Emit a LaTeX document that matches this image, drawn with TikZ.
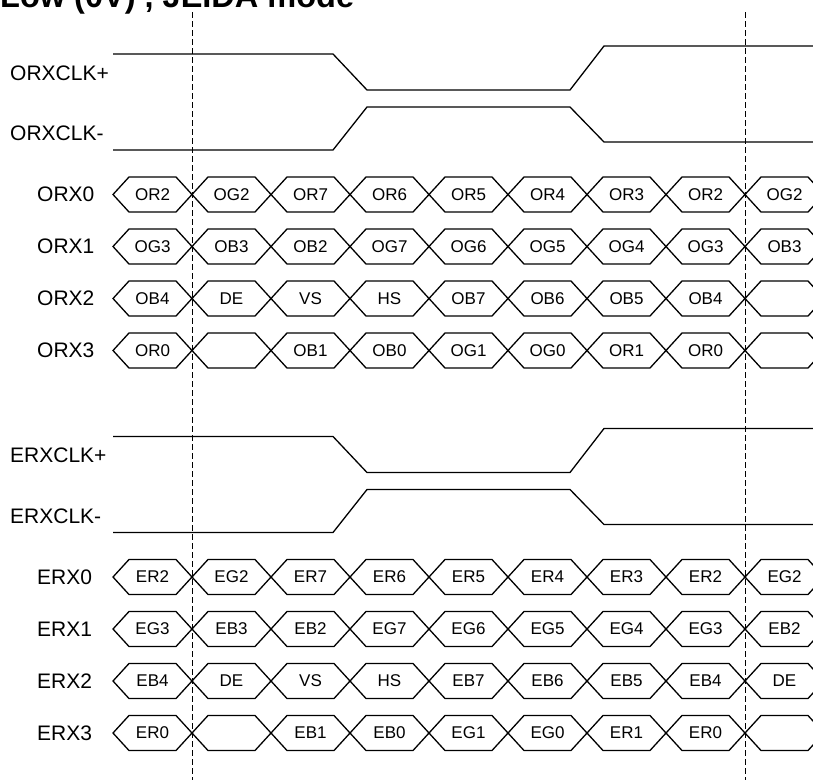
\documentclass[tikz,border=0pt]{standalone}
\usepackage{fontspec}
\setmainfont{Liberation Sans}
\usepackage{tikz}
\usetikzlibrary{calc,positioning}
\tikzset{
    %% Styles for the timing chart
    % signal names on the left
    sname/.style = {anchor=west, inner sep=0, font=\fontsize{21}{24}\selectfont},
    % text inside a data cell
    ctext/.style = {inner sep=0, font=\fontsize{17}{20}\selectfont},
    % waveform lines and data cells
    wave/.style = {draw, line width=1.3pt, line join=miter},
    % clock edge markers
    vmark/.style = {draw, line width=1pt, dash pattern=on 6pt off 3pt},
    % heading (cut off at the top of the page)
    htitle/.style = {anchor=base west, inner sep=0, font=\bfseries\fontsize{32.5}{36}\selectfont}
  }

\begin{document}
\begin{tikzpicture}[x=1pt, y=-1pt]
\useasboundingbox (0,0) rectangle (813,780);
\clip (0,0) rectangle (813,780);

\node [htitle] (T) at (0,7.5) {Low (0V) , JEIDA mode};

% clock edges
\coordinate (M1) at (192,12);
\coordinate (M2) at (745,12);
\draw [vmark] (M1) -- (M1 |- 0,780);
\draw [vmark] (M2) -- (M2 |- 0,780);

% odd and even channel, the even one sits 382.5 lower
\foreach \p/\dy/\rows in {O/0/{0/OR2/OG2/OR7/OR6/OR5/OR4/OR3/OR2/OG2,
                               1/OG3/OB3/OB2/OG7/OG6/OG5/OG4/OG3/OB3,
                               2/OB4/DE/VS/HS/OB7/OB6/OB5/OB4/{},
                               3/OR0/{}/OB1/OB0/OG1/OG0/OR1/OR0/{}},
                          E/382.5/{0/ER2/EG2/ER7/ER6/ER5/ER4/ER3/ER2/EG2,
                               1/EG3/EB3/EB2/EG7/EG6/EG5/EG4/EG3/EB2,
                               2/EB4/DE/VS/HS/EB7/EB6/EB5/EB4/DE,
                               3/ER0/{}/EB1/EB0/EG1/EG0/ER1/ER0/{}}}
{
\begin{scope}[shift={(0,\dy)}]
  % clock pair
  \node [sname] (\p CKP) at (10,73) {\p RXCLK+};
  \node [sname] (\p CKN) at (10,133.5) {\p RXCLK-};
  \draw [wave] (113,54) -- (333,54) -- (367,90) -- (570,90) -- (604,46) -- (813,46);
  \draw [wave] (113,150) -- (333,150) -- (367,107) -- (570,107) -- (604,142) -- (813,142);

  % data lanes
  \foreach \r/\a/\b/\c/\d/\e/\f/\g/\h/\i in \rows {
    \pgfmathsetmacro{\y}{194.5+52*\r}
    \node [sname] (\p RX\r) at (37,\y) {\p RX\r};
    \foreach \txt [count=\k from 0] in {\a,\b,\c,\d,\e,\f,\g,\h,\i} {
      \pgfmathsetmacro{\xa}{113+79*\k}
      \draw [wave] (\xa,\y) -- ++(16,-17.5) -- ++(47,0) -- ++(16,17.5)
                   -- ++(-16,17.5) -- ++(-47,0) -- cycle;
      \node [ctext] (\p\r-\k) at (\xa+39.5,\y) {\txt};
    }
  }
\end{scope}
}

\end{tikzpicture}
\end{document}
